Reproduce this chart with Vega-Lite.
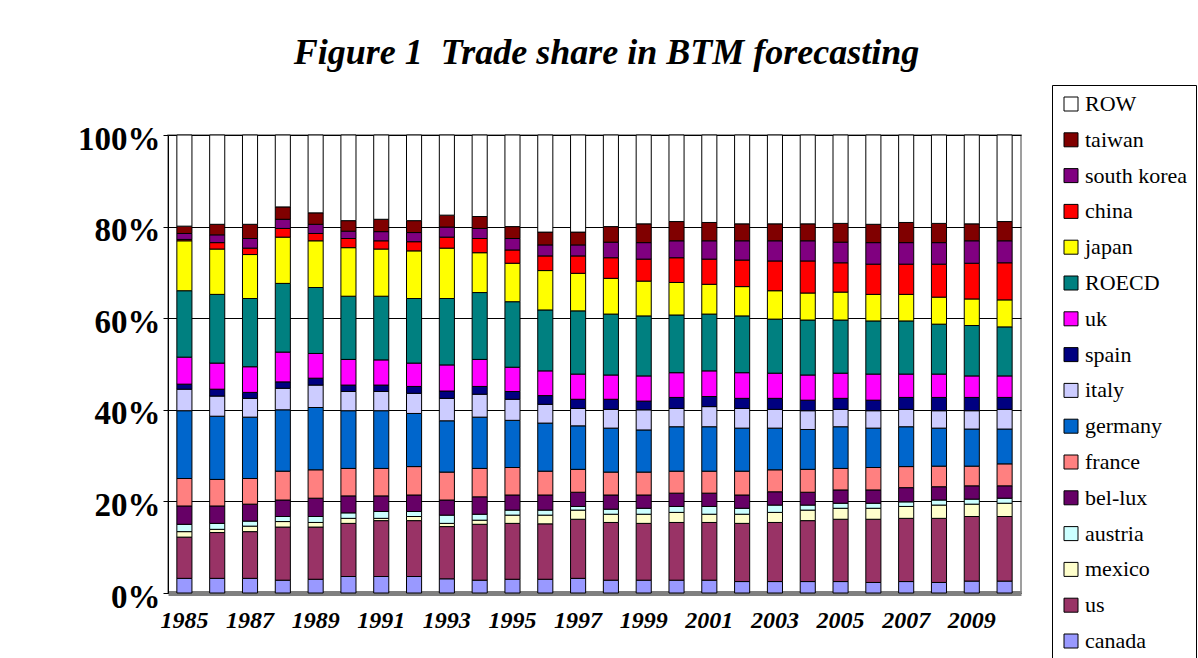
{
"$schema": "https://vega.github.io/schema/vega-lite/v6.json",
"width": 853, "height": 458,
"autosize": {"type": "none"},
"padding": {"left": 168, "top": 135, "right": 177, "bottom": 65},
"background": "white",
"title": {"text": "Figure 1\u00a0 Trade share in BTM forecasting", "font": "Liberation Serif", "fontSize": 36, "fontWeight": "bold", "fontStyle": "italic", "anchor": "middle", "frame": "group", "dx": 12, "offset": 13, "color": "black"},
"datasets": {
"ranks": [{"country":"canada","rank":1},{"country":"us","rank":2},{"country":"mexico","rank":3},{"country":"austria","rank":4},{"country":"bel-lux","rank":5},{"country":"france","rank":6},{"country":"germany","rank":7},{"country":"italy","rank":8},{"country":"spain","rank":9},{"country":"uk","rank":10},{"country":"ROECD","rank":11},{"country":"japan","rank":12},{"country":"china","rank":13},{"country":"south korea","rank":14},{"country":"taiwan","rank":15},{"country":"ROW","rank":16}],
"shares": [
{"year":"1985","country":"canada","share":3.2},{"year":"1985","country":"us","share":9.0},{"year":"1985","country":"mexico","share":1.2},{"year":"1985","country":"austria","share":1.6},{"year":"1985","country":"bel-lux","share":4.0},{"year":"1985","country":"france","share":6.0},{"year":"1985","country":"germany","share":14.8},{"year":"1985","country":"italy","share":4.7},{"year":"1985","country":"spain","share":1.1},{"year":"1985","country":"uk","share":5.9},{"year":"1985","country":"ROECD","share":14.5},{"year":"1985","country":"japan","share":10.9},{"year":"1985","country":"china","share":0.3},{"year":"1985","country":"south korea","share":1.3},{"year":"1985","country":"taiwan","share":1.6},{"year":"1985","country":"ROW","share":19.9},
{"year":"1986","country":"canada","share":3.2},{"year":"1986","country":"us","share":10.0},{"year":"1986","country":"mexico","share":0.7},{"year":"1986","country":"austria","share":1.3},{"year":"1986","country":"bel-lux","share":3.8},{"year":"1986","country":"france","share":5.8},{"year":"1986","country":"germany","share":13.8},{"year":"1986","country":"italy","share":4.4},{"year":"1986","country":"spain","share":1.5},{"year":"1986","country":"uk","share":5.7},{"year":"1986","country":"ROECD","share":15.0},{"year":"1986","country":"japan","share":9.9},{"year":"1986","country":"china","share":1.4},{"year":"1986","country":"south korea","share":1.7},{"year":"1986","country":"taiwan","share":2.3},{"year":"1986","country":"ROW","share":19.5},
{"year":"1987","country":"canada","share":3.2},{"year":"1987","country":"us","share":10.2},{"year":"1987","country":"mexico","share":1.2},{"year":"1987","country":"austria","share":1.1},{"year":"1987","country":"bel-lux","share":3.7},{"year":"1987","country":"france","share":5.6},{"year":"1987","country":"germany","share":13.4},{"year":"1987","country":"italy","share":4.1},{"year":"1987","country":"spain","share":1.3},{"year":"1987","country":"uk","share":5.6},{"year":"1987","country":"ROECD","share":14.9},{"year":"1987","country":"japan","share":9.6},{"year":"1987","country":"china","share":1.4},{"year":"1987","country":"south korea","share":2.1},{"year":"1987","country":"taiwan","share":3.1},{"year":"1987","country":"ROW","share":19.5},
{"year":"1988","country":"canada","share":2.8},{"year":"1988","country":"us","share":11.6},{"year":"1988","country":"mexico","share":1.2},{"year":"1988","country":"austria","share":1.1},{"year":"1988","country":"bel-lux","share":3.6},{"year":"1988","country":"france","share":6.3},{"year":"1988","country":"germany","share":13.4},{"year":"1988","country":"italy","share":4.7},{"year":"1988","country":"spain","share":1.4},{"year":"1988","country":"uk","share":6.5},{"year":"1988","country":"ROECD","share":15.0},{"year":"1988","country":"japan","share":10.1},{"year":"1988","country":"china","share":1.9},{"year":"1988","country":"south korea","share":2.0},{"year":"1988","country":"taiwan","share":2.7},{"year":"1988","country":"ROW","share":15.7},
{"year":"1989","country":"canada","share":3.0},{"year":"1989","country":"us","share":11.4},{"year":"1989","country":"mexico","share":1.0},{"year":"1989","country":"austria","share":1.3},{"year":"1989","country":"bel-lux","share":4.0},{"year":"1989","country":"france","share":6.2},{"year":"1989","country":"germany","share":13.6},{"year":"1989","country":"italy","share":4.9},{"year":"1989","country":"spain","share":1.5},{"year":"1989","country":"uk","share":5.4},{"year":"1989","country":"ROECD","share":14.4},{"year":"1989","country":"japan","share":10.2},{"year":"1989","country":"china","share":1.6},{"year":"1989","country":"south korea","share":2.0},{"year":"1989","country":"taiwan","share":2.5},{"year":"1989","country":"ROW","share":17.0},
{"year":"1990","country":"canada","share":3.6},{"year":"1990","country":"us","share":11.6},{"year":"1990","country":"mexico","share":1.1},{"year":"1990","country":"austria","share":1.2},{"year":"1990","country":"bel-lux","share":3.7},{"year":"1990","country":"france","share":6.0},{"year":"1990","country":"germany","share":12.6},{"year":"1990","country":"italy","share":4.2},{"year":"1990","country":"spain","share":1.4},{"year":"1990","country":"uk","share":5.6},{"year":"1990","country":"ROECD","share":13.8},{"year":"1990","country":"japan","share":10.6},{"year":"1990","country":"china","share":2.0},{"year":"1990","country":"south korea","share":1.6},{"year":"1990","country":"taiwan","share":2.3},{"year":"1990","country":"ROW","share":18.7},
{"year":"1991","country":"canada","share":3.6},{"year":"1991","country":"us","share":12.2},{"year":"1991","country":"mexico","share":0.5},{"year":"1991","country":"austria","share":1.5},{"year":"1991","country":"bel-lux","share":3.4},{"year":"1991","country":"france","share":6.0},{"year":"1991","country":"germany","share":12.6},{"year":"1991","country":"italy","share":4.2},{"year":"1991","country":"spain","share":1.4},{"year":"1991","country":"uk","share":5.5},{"year":"1991","country":"ROECD","share":13.9},{"year":"1991","country":"japan","share":10.3},{"year":"1991","country":"china","share":1.8},{"year":"1991","country":"south korea","share":2.0},{"year":"1991","country":"taiwan","share":2.7},{"year":"1991","country":"ROW","share":18.4},
{"year":"1992","country":"canada","share":3.6},{"year":"1992","country":"us","share":12.2},{"year":"1992","country":"mexico","share":0.9},{"year":"1992","country":"austria","share":1.1},{"year":"1992","country":"bel-lux","share":3.6},{"year":"1992","country":"france","share":6.2},{"year":"1992","country":"germany","share":11.6},{"year":"1992","country":"italy","share":4.4},{"year":"1992","country":"spain","share":1.5},{"year":"1992","country":"uk","share":5.1},{"year":"1992","country":"ROECD","share":14.1},{"year":"1992","country":"japan","share":10.4},{"year":"1992","country":"china","share":2.0},{"year":"1992","country":"south korea","share":2.0},{"year":"1992","country":"taiwan","share":2.6},{"year":"1992","country":"ROW","share":18.7},
{"year":"1993","country":"canada","share":3.1},{"year":"1993","country":"us","share":11.4},{"year":"1993","country":"mexico","share":0.7},{"year":"1993","country":"austria","share":1.8},{"year":"1993","country":"bel-lux","share":3.3},{"year":"1993","country":"france","share":6.1},{"year":"1993","country":"germany","share":11.2},{"year":"1993","country":"italy","share":4.9},{"year":"1993","country":"spain","share":1.6},{"year":"1993","country":"uk","share":5.7},{"year":"1993","country":"ROECD","share":14.5},{"year":"1993","country":"japan","share":11.0},{"year":"1993","country":"china","share":2.4},{"year":"1993","country":"south korea","share":2.2},{"year":"1993","country":"taiwan","share":2.6},{"year":"1993","country":"ROW","share":17.5},
{"year":"1994","country":"canada","share":2.8},{"year":"1994","country":"us","share":12.2},{"year":"1994","country":"mexico","share":0.9},{"year":"1994","country":"austria","share":1.3},{"year":"1994","country":"bel-lux","share":3.8},{"year":"1994","country":"france","share":6.2},{"year":"1994","country":"germany","share":11.2},{"year":"1994","country":"italy","share":5.0},{"year":"1994","country":"spain","share":1.7},{"year":"1994","country":"uk","share":5.9},{"year":"1994","country":"ROECD","share":14.6},{"year":"1994","country":"japan","share":8.7},{"year":"1994","country":"china","share":3.1},{"year":"1994","country":"south korea","share":2.2},{"year":"1994","country":"taiwan","share":2.6},{"year":"1994","country":"ROW","share":17.8},
{"year":"1995","country":"canada","share":3.0},{"year":"1995","country":"us","share":12.2},{"year":"1995","country":"mexico","share":1.8},{"year":"1995","country":"austria","share":1.1},{"year":"1995","country":"bel-lux","share":3.3},{"year":"1995","country":"france","share":6.0},{"year":"1995","country":"germany","share":10.3},{"year":"1995","country":"italy","share":4.6},{"year":"1995","country":"spain","share":1.7},{"year":"1995","country":"uk","share":5.3},{"year":"1995","country":"ROECD","share":14.3},{"year":"1995","country":"japan","share":8.4},{"year":"1995","country":"china","share":2.9},{"year":"1995","country":"south korea","share":2.5},{"year":"1995","country":"taiwan","share":2.6},{"year":"1995","country":"ROW","share":20.0},
{"year":"1996","country":"canada","share":3.0},{"year":"1996","country":"us","share":12.1},{"year":"1996","country":"mexico","share":1.9},{"year":"1996","country":"austria","share":1.1},{"year":"1996","country":"bel-lux","share":3.3},{"year":"1996","country":"france","share":5.2},{"year":"1996","country":"germany","share":10.5},{"year":"1996","country":"italy","share":4.1},{"year":"1996","country":"spain","share":1.9},{"year":"1996","country":"uk","share":5.4},{"year":"1996","country":"ROECD","share":13.3},{"year":"1996","country":"japan","share":8.6},{"year":"1996","country":"china","share":3.2},{"year":"1996","country":"south korea","share":2.4},{"year":"1996","country":"taiwan","share":2.8},{"year":"1996","country":"ROW","share":21.2},
{"year":"1997","country":"canada","share":3.2},{"year":"1997","country":"us","share":12.9},{"year":"1997","country":"mexico","share":2.0},{"year":"1997","country":"austria","share":0.8},{"year":"1997","country":"bel-lux","share":3.1},{"year":"1997","country":"france","share":5.0},{"year":"1997","country":"germany","share":9.5},{"year":"1997","country":"italy","share":3.8},{"year":"1997","country":"spain","share":2.0},{"year":"1997","country":"uk","share":5.5},{"year":"1997","country":"ROECD","share":13.8},{"year":"1997","country":"japan","share":8.2},{"year":"1997","country":"china","share":3.8},{"year":"1997","country":"south korea","share":2.4},{"year":"1997","country":"taiwan","share":2.8},{"year":"1997","country":"ROW","share":21.2},
{"year":"1998","country":"canada","share":2.8},{"year":"1998","country":"us","share":12.6},{"year":"1998","country":"mexico","share":1.8},{"year":"1998","country":"austria","share":1.1},{"year":"1998","country":"bel-lux","share":3.1},{"year":"1998","country":"france","share":5.0},{"year":"1998","country":"germany","share":9.6},{"year":"1998","country":"italy","share":4.1},{"year":"1998","country":"spain","share":2.2},{"year":"1998","country":"uk","share":5.3},{"year":"1998","country":"ROECD","share":13.3},{"year":"1998","country":"japan","share":7.8},{"year":"1998","country":"china","share":4.5},{"year":"1998","country":"south korea","share":3.4},{"year":"1998","country":"taiwan","share":3.4},{"year":"1998","country":"ROW","share":20.0},
{"year":"1999","country":"canada","share":2.8},{"year":"1999","country":"us","share":12.4},{"year":"1999","country":"mexico","share":2.0},{"year":"1999","country":"austria","share":1.3},{"year":"1999","country":"bel-lux","share":2.9},{"year":"1999","country":"france","share":5.0},{"year":"1999","country":"germany","share":9.2},{"year":"1999","country":"italy","share":4.4},{"year":"1999","country":"spain","share":1.9},{"year":"1999","country":"uk","share":5.5},{"year":"1999","country":"ROECD","share":13.1},{"year":"1999","country":"japan","share":7.6},{"year":"1999","country":"china","share":4.8},{"year":"1999","country":"south korea","share":3.6},{"year":"1999","country":"taiwan","share":4.1},{"year":"1999","country":"ROW","share":19.4},
{"year":"2000","country":"canada","share":2.8},{"year":"2000","country":"us","share":12.6},{"year":"2000","country":"mexico","share":2.2},{"year":"2000","country":"austria","share":1.3},{"year":"2000","country":"bel-lux","share":2.9},{"year":"2000","country":"france","share":4.8},{"year":"2000","country":"germany","share":9.7},{"year":"2000","country":"italy","share":4.0},{"year":"2000","country":"spain","share":2.4},{"year":"2000","country":"uk","share":5.4},{"year":"2000","country":"ROECD","share":12.6},{"year":"2000","country":"japan","share":7.1},{"year":"2000","country":"china","share":5.4},{"year":"2000","country":"south korea","share":3.7},{"year":"2000","country":"taiwan","share":4.2},{"year":"2000","country":"ROW","share":18.9},
{"year":"2001","country":"canada","share":2.8},{"year":"2001","country":"us","share":12.6},{"year":"2001","country":"mexico","share":1.8},{"year":"2001","country":"austria","share":1.7},{"year":"2001","country":"bel-lux","share":2.9},{"year":"2001","country":"france","share":4.8},{"year":"2001","country":"germany","share":9.7},{"year":"2001","country":"italy","share":4.4},{"year":"2001","country":"spain","share":2.2},{"year":"2001","country":"uk","share":5.6},{"year":"2001","country":"ROECD","share":12.4},{"year":"2001","country":"japan","share":6.5},{"year":"2001","country":"china","share":5.5},{"year":"2001","country":"south korea","share":4.0},{"year":"2001","country":"taiwan","share":4.0},{"year":"2001","country":"ROW","share":19.1},
{"year":"2002","country":"canada","share":2.5},{"year":"2002","country":"us","share":12.7},{"year":"2002","country":"mexico","share":2.0},{"year":"2002","country":"austria","share":1.3},{"year":"2002","country":"bel-lux","share":2.9},{"year":"2002","country":"france","share":5.2},{"year":"2002","country":"germany","share":9.4},{"year":"2002","country":"italy","share":4.3},{"year":"2002","country":"spain","share":2.2},{"year":"2002","country":"uk","share":5.6},{"year":"2002","country":"ROECD","share":12.4},{"year":"2002","country":"japan","share":6.4},{"year":"2002","country":"china","share":5.8},{"year":"2002","country":"south korea","share":4.2},{"year":"2002","country":"taiwan","share":3.7},{"year":"2002","country":"ROW","share":19.4},
{"year":"2003","country":"canada","share":2.5},{"year":"2003","country":"us","share":12.9},{"year":"2003","country":"mexico","share":2.2},{"year":"2003","country":"austria","share":1.6},{"year":"2003","country":"bel-lux","share":2.9},{"year":"2003","country":"france","share":4.8},{"year":"2003","country":"germany","share":9.1},{"year":"2003","country":"italy","share":4.1},{"year":"2003","country":"spain","share":2.4},{"year":"2003","country":"uk","share":5.5},{"year":"2003","country":"ROECD","share":11.8},{"year":"2003","country":"japan","share":6.2},{"year":"2003","country":"china","share":6.5},{"year":"2003","country":"south korea","share":4.4},{"year":"2003","country":"taiwan","share":3.7},{"year":"2003","country":"ROW","share":19.4},
{"year":"2004","country":"canada","share":2.5},{"year":"2004","country":"us","share":13.3},{"year":"2004","country":"mexico","share":2.3},{"year":"2004","country":"austria","share":1.1},{"year":"2004","country":"bel-lux","share":2.8},{"year":"2004","country":"france","share":5.0},{"year":"2004","country":"germany","share":8.7},{"year":"2004","country":"italy","share":4.1},{"year":"2004","country":"spain","share":2.3},{"year":"2004","country":"uk","share":5.5},{"year":"2004","country":"ROECD","share":12.0},{"year":"2004","country":"japan","share":5.9},{"year":"2004","country":"china","share":7.0},{"year":"2004","country":"south korea","share":4.4},{"year":"2004","country":"taiwan","share":3.7},{"year":"2004","country":"ROW","share":19.4},
{"year":"2005","country":"canada","share":2.5},{"year":"2005","country":"us","share":13.6},{"year":"2005","country":"mexico","share":2.4},{"year":"2005","country":"austria","share":1.1},{"year":"2005","country":"bel-lux","share":2.9},{"year":"2005","country":"france","share":4.7},{"year":"2005","country":"germany","share":9.1},{"year":"2005","country":"italy","share":3.8},{"year":"2005","country":"spain","share":2.4},{"year":"2005","country":"uk","share":5.5},{"year":"2005","country":"ROECD","share":11.6},{"year":"2005","country":"japan","share":6.1},{"year":"2005","country":"china","share":6.4},{"year":"2005","country":"south korea","share":4.5},{"year":"2005","country":"taiwan","share":4.1},{"year":"2005","country":"ROW","share":19.3},
{"year":"2006","country":"canada","share":2.3},{"year":"2006","country":"us","share":13.8},{"year":"2006","country":"mexico","share":2.4},{"year":"2006","country":"austria","share":1.1},{"year":"2006","country":"bel-lux","share":2.9},{"year":"2006","country":"france","share":4.9},{"year":"2006","country":"germany","share":8.6},{"year":"2006","country":"italy","share":3.8},{"year":"2006","country":"spain","share":2.3},{"year":"2006","country":"uk","share":5.7},{"year":"2006","country":"ROECD","share":11.6},{"year":"2006","country":"japan","share":5.8},{"year":"2006","country":"china","share":6.6},{"year":"2006","country":"south korea","share":4.7},{"year":"2006","country":"taiwan","share":4.0},{"year":"2006","country":"ROW","share":19.5},
{"year":"2007","country":"canada","share":2.5},{"year":"2007","country":"us","share":13.8},{"year":"2007","country":"mexico","share":2.6},{"year":"2007","country":"austria","share":1.0},{"year":"2007","country":"bel-lux","share":3.1},{"year":"2007","country":"france","share":4.6},{"year":"2007","country":"germany","share":8.7},{"year":"2007","country":"italy","share":3.8},{"year":"2007","country":"spain","share":2.6},{"year":"2007","country":"uk","share":5.1},{"year":"2007","country":"ROECD","share":11.6},{"year":"2007","country":"japan","share":5.8},{"year":"2007","country":"china","share":6.6},{"year":"2007","country":"south korea","share":4.7},{"year":"2007","country":"taiwan","share":4.4},{"year":"2007","country":"ROW","share":19.1},
{"year":"2008","country":"canada","share":2.3},{"year":"2008","country":"us","share":14.0},{"year":"2008","country":"mexico","share":2.9},{"year":"2008","country":"austria","share":1.1},{"year":"2008","country":"bel-lux","share":2.9},{"year":"2008","country":"france","share":4.5},{"year":"2008","country":"germany","share":8.3},{"year":"2008","country":"italy","share":3.8},{"year":"2008","country":"spain","share":2.9},{"year":"2008","country":"uk","share":5.1},{"year":"2008","country":"ROECD","share":10.9},{"year":"2008","country":"japan","share":5.9},{"year":"2008","country":"china","share":7.2},{"year":"2008","country":"south korea","share":4.7},{"year":"2008","country":"taiwan","share":4.2},{"year":"2008","country":"ROW","share":19.3},
{"year":"2009","country":"canada","share":2.6},{"year":"2009","country":"us","share":14.1},{"year":"2009","country":"mexico","share":2.7},{"year":"2009","country":"austria","share":1.1},{"year":"2009","country":"bel-lux","share":2.9},{"year":"2009","country":"france","share":4.3},{"year":"2009","country":"germany","share":8.1},{"year":"2009","country":"italy","share":4.0},{"year":"2009","country":"spain","share":2.9},{"year":"2009","country":"uk","share":4.7},{"year":"2009","country":"ROECD","share":11.0},{"year":"2009","country":"japan","share":5.8},{"year":"2009","country":"china","share":7.8},{"year":"2009","country":"south korea","share":4.9},{"year":"2009","country":"taiwan","share":3.7},{"year":"2009","country":"ROW","share":19.4},
{"year":"2010","country":"canada","share":2.6},{"year":"2010","country":"us","share":14.1},{"year":"2010","country":"mexico","share":2.9},{"year":"2010","country":"austria","share":1.1},{"year":"2010","country":"bel-lux","share":2.7},{"year":"2010","country":"france","share":4.8},{"year":"2010","country":"germany","share":7.6},{"year":"2010","country":"italy","share":4.3},{"year":"2010","country":"spain","share":2.6},{"year":"2010","country":"uk","share":4.7},{"year":"2010","country":"ROECD","share":10.7},{"year":"2010","country":"japan","share":5.9},{"year":"2010","country":"china","share":8.1},{"year":"2010","country":"south korea","share":4.8},{"year":"2010","country":"taiwan","share":4.2},{"year":"2010","country":"ROW","share":18.9}
]},
"data": {"name": "shares"},
"transform": [{"lookup": "country", "from": {"data": {"name": "ranks"}, "key": "country", "fields": ["rank"]}}],
"mark": {"type": "bar", "stroke": "black", "strokeWidth": 1},
"encoding": {
  "x": {"field": "year", "type": "ordinal", "title": null,
        "scale": {"paddingInner": 0.54, "paddingOuter": 0.27},
        "axis": {"values": ["1985","1987","1989","1991","1993","1995","1997","1999","2001","2003","2005","2007","2009"],
                 "labelAngle": 0, "labelFont": "Liberation Serif", "labelFontSize": 24, "labelFontWeight": "bold", "labelFontStyle": "italic", "labelColor": "black",
                 "ticks": false, "labelPadding": 15, "domainColor": "#808080", "domainWidth": 5}},
  "y": {"field": "share", "type": "quantitative", "stack": "normalize", "title": null,
        "scale": {"domain": [0, 1]},
        "axis": {"values": [0, 0.2, 0.4, 0.6, 0.8, 1], "format": ".0%", "labelFont": "Liberation Serif", "labelFontSize": 33, "labelFontWeight": "bold", "labelColor": "black",
                 "labelOffset": 4, "labelPadding": 3, "tickSize": 5, "tickColor": "black", "domainColor": "black", "grid": true, "gridColor": "black", "gridWidth": 1}},
  "order": {"field": "rank", "type": "quantitative", "sort": "ascending"},
  "color": {"field": "country", "type": "nominal",
        "scale": {"domain": ["canada","us","mexico","austria","bel-lux","france","germany","italy","spain","uk","ROECD","japan","china","south korea","taiwan","ROW"],
                  "range": ["#9999FF","#993366","#FFFFCC","#CCFFFF","#660066","#FF8080","#0066CC","#CCCCFF","#000080","#FF00FF","#008080","#FFFF00","#FF0000","#800080","#800000","#FFFFFF"]},
        "legend": {"title": null, "orient": "none", "legendX": 884, "legendY": -50,
                   "values": ["ROW","taiwan","south korea","china","japan","ROECD","uk","spain","italy","germany","france","bel-lux","austria","mexico","us","canada"],
                   "strokeColor": "black", "fillColor": "white", "padding": 8,
                   "symbolType": "square", "symbolSize": 196, "symbolStrokeColor": "black", "symbolStrokeWidth": 1, "symbolOpacity": 1,
                   "labelFont": "Liberation Serif", "labelFontSize": 22, "labelColor": "black", "labelOffset": 3, "rowPadding": 13.8, "labelLimit": 200}}
},
"config": {"view": {"stroke": "#808080", "strokeWidth": 1.5}, "legend": {"labelFont": "Liberation Serif"}}
}
